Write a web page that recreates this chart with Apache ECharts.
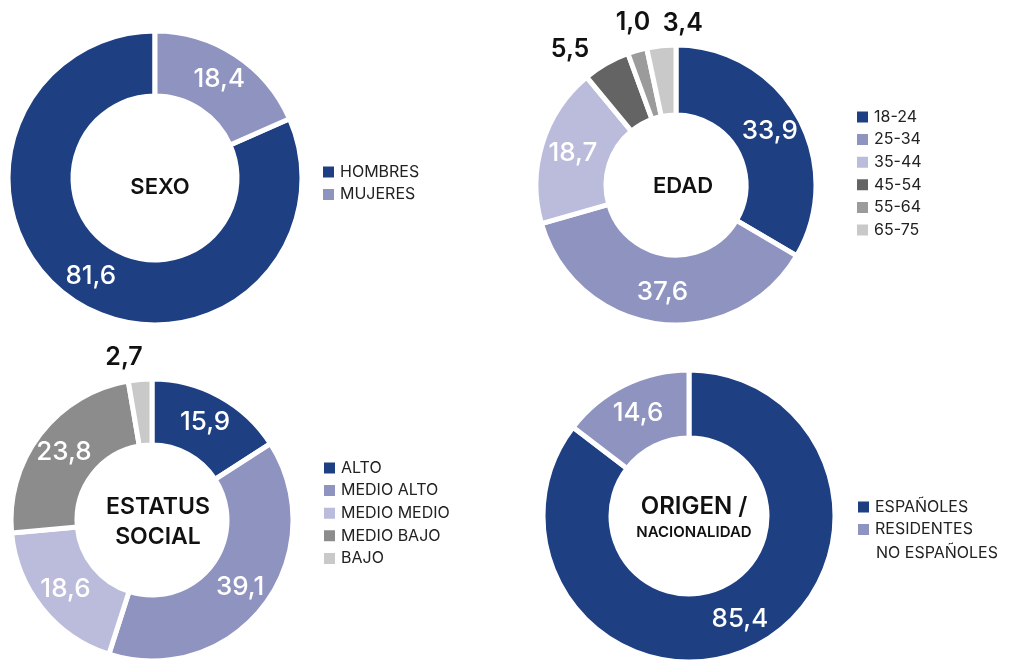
<!DOCTYPE html>
<html>
<head>
<meta charset="utf-8">
<script src="https://cdn.jsdelivr.net/npm/echarts@6/dist/echarts.min.js"></script>
<style>
  html, body { margin: 0; padding: 0; background: #fff; }
  #chart { width: 1013px; height: 661px; }
</style>
</head>
<body>
<div id="chart"></div>
<script>
// datos
const sexoNombres = ["HOMBRES", "MUJERES"];
const sexoValores = [81.6, 18.4];
const edadNombres = ["18-24", "25-34", "35-44", "45-54", "55-64", "65-75"];
const edadValores = [33.9, 37.6, 18.7, 5.5, 1.0, 3.4];
const estatusNombres = ["ALTO", "MEDIO ALTO", "MEDIO MEDIO", "MEDIO BAJO", "BAJO"];
const estatusValores = [15.9, 39.1, 18.6, 23.8, 2.7];
const origenNombres = ["ESPAÑOLES", "RESIDENTES"];
const origenValores = [85.4, 14.6];

const FUENTE = "Inter, Lato, sans-serif";
const azul = "#1e3f82";
const lila = "#8f93c0";
const lilaClaro = "#bbbcdb";

// desplazamiento de las etiquetas externas (solo estilo)
const desplazaExterno = { "45-54": [-10, -11], "55-64": [19, -24], "65-75": [47, -18], "BAJO": [8, -18] };

function armarDatos(nombres, valores) {
  return nombres.map((n, i) => {
    const item = { name: n, value: valores[i] };
    if (valores[i] < 6) {
      // los pequeños van fuera, en negro
      item.label = {
        position: "outside", color: "#111", fontWeight: 600, fontSize: 25,
        offset: desplazaExterno[n] || [0, 0],
      };
      item.labelLine = { show: false, length: 4, length2: 0 };
    }
    return item;
  });
}

function serie(nombres, valores, colores, centro, radio, horario, minAng) {
  return {
    type: "pie",
    center: centro,
    radius: radio,
    startAngle: 90,
    clockwise: horario,
    minAngle: minAng || 0,
    color: colores,
    avoidLabelOverlap: false,
    labelLayout: { hideOverlap: false },
    itemStyle: { borderColor: "#fff", borderWidth: 5 },
    label: {
      show: true,
      position: "inside",
      color: "#fff",
      fontFamily: FUENTE,
      fontWeight: 500,
      fontSize: 26,
      formatter: (p) => p.value.toFixed(1).replace(".", ","),
    },
    labelLine: { show: false },
    emphasis: { disabled: true },
    data: armarDatos(nombres, valores),
  };
}

function leyenda(nombres, x, y) {
  return {
    data: nombres,
    orient: "vertical",
    left: x,
    top: y,
    icon: "rect",
    itemWidth: 13,
    itemHeight: 13,
    itemGap: 6.6,
    selectedMode: false,
    textStyle: { fontFamily: FUENTE, fontSize: 16, lineHeight: 16, color: "#222" },
  };
}

function titulo(texto, x, y, tam) {
  return {
    text: texto,
    left: x,
    top: y,
    textAlign: "center",
    textStyle: { fontFamily: FUENTE, fontSize: tam, fontWeight: 600, color: "#111", lineHeight: 30 },
  };
}

const chart = echarts.init(document.getElementById("chart"));
chart.setOption({
  animation: false,
  backgroundColor: "#fff",
  title: [
    titulo("SEXO", 155, 167, 22),
    titulo("EDAD", 678, 166, 22),
    titulo("ESTATUS\nSOCIAL", 153, 487, 23),
    titulo("ORIGEN /", 689, 487, 24),
    { text: "NACIONALIDAD", left: 689, top: 520, textAlign: "center",
      textStyle: { fontFamily: FUENTE, fontSize: 15, fontWeight: 600, color: "#111" } },
  ],
  legend: [
    leyenda(sexoNombres, 316, 159),
    leyenda(edadNombres, 850, 104),
    leyenda(estatusNombres, 317, 455),
    leyenda(origenNombres, 851, 494),
  ],
  graphic: [
    { type: "text", left: 876, top: 545,
      style: { text: "NO ESPAÑOLES", font: "16px " + FUENTE, fill: "#222" } },
  ],
  series: [
    serie(sexoNombres, sexoValores, [azul, lila], [155, 178], [82, 147], false),
    serie(edadNombres, edadValores, [azul, lila, lilaClaro, "#646464", "#9b9b9b", "#c9c9c9"], [676, 185], [70, 140], true, 8),
    serie(estatusNombres, estatusValores, [azul, lila, lilaClaro, "#8c8c8c", "#c9c9c9"], [152, 520], [75, 141], true),
    serie(origenNombres, origenValores, [azul, lila], [689, 516], [78, 146], true),
  ],
});
</script>
</body>
</html>
